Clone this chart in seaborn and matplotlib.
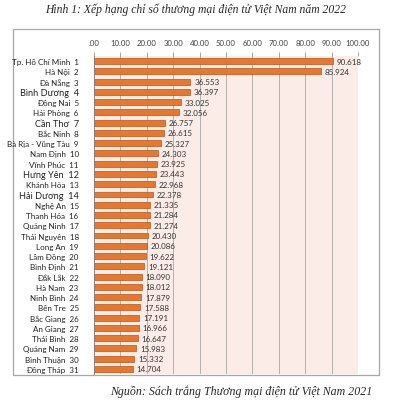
import seaborn as sns
import matplotlib.pyplot as plt
import pandas as pd
from matplotlib.patches import Rectangle

provinces = ["Tp. Hồ Chí Minh", "Hà Nội", "Đà Nẵng", "Bình Dương", "Đồng Nai", "Hải Phòng",
             "Cần Thơ", "Bắc Ninh", "Bà Rịa - Vũng Tàu", "Nam Định", "Vĩnh Phúc", "Hưng Yên",
             "Khánh Hòa", "Hải Dương", "Nghệ An", "Thanh Hóa", "Quảng Ninh", "Thái Nguyên",
             "Long An", "Lâm Đồng", "Bình Định", "Đắk Lắk", "Hà Nam", "Ninh Bình", "Bến Tre",
             "Bắc Giang", "An Giang", "Thái Bình", "Quảng Nam", "Bình Thuận", "Đồng Tháp"]
ranks = list(range(1, 32))
scores = [90.618, 85.924, 36.553, 36.397, 33.025, 32.056, 26.757, 26.615, 25.327, 24.303,
          23.925, 23.443, 22.968, 22.378, 21.335, 21.284, 21.274, 20.430, 20.086, 19.622,
          19.121, 18.090, 18.012, 17.879, 17.588, 17.191, 16.966, 16.647, 15.983, 15.332,
          14.704]
x_ticks = [0, 10, 20, 30, 40, 50, 60, 70, 80, 90, 100]
big_labels = ["Bình Dương", "Cần Thơ", "Hưng Yên", "Hải Dương"]

df = pd.DataFrame({"label": [f"{p}  {r}" for p, r in zip(provinces, ranks)],
                   "score": scores})

sns.set_theme(style="white")
plt.rcParams["font.family"] = ["Lato", "DejaVu Sans"]

fig = plt.figure(figsize=(3.96, 4.02), dpi=100)
ax = fig.add_axes([94 / 396, 1 - 375 / 402, 264 / 396, 318 / 402])

# outer chart frame
fig.add_artist(Rectangle((13 / 396, 1 - 376 / 402), 366 / 396, 346 / 402,
                         transform=fig.transFigure, fill=False,
                         edgecolor="#A6A6A6", linewidth=0.9, zorder=0))

ax.set_facecolor("#FCECE7")
sns.barplot(data=df, x="score", y="label", orient="h", color="#E8772E",
            edgecolor="#B8541A", linewidth=0.5, width=0.58, saturation=1, ax=ax)

for i, v in enumerate(scores):
    ax.text(v + 1.4, i, f"{v:.3f}", va="center", ha="left", fontsize=5.8, color="#333333")

ax.set_xlim(0, 100)
ax.set_xticks(x_ticks)
ax.set_xticklabels([f"{t:.2f}" if t else ".00" for t in x_ticks], fontsize=5.6, color="#404040")
ax.xaxis.tick_top()
ax.tick_params(axis="x", top=True, length=3, width=0.5, color="#808080", pad=4)
ax.tick_params(axis="y", left=False, pad=5)
ax.grid(axis="x", color="#A8A8A8", linewidth=0.6)
ax.set_axisbelow(True)
for lab in ax.get_yticklabels():
    lab.set_fontsize(6.6 if lab.get_text().split("  ")[0] in big_labels else 5.8)
    lab.set_color("#202020")
ax.set_xlabel("")
ax.set_ylabel("")
for side in ["top", "right", "bottom"]:
    ax.spines[side].set_visible(False)
ax.spines["left"].set_color("#808080")
ax.spines["left"].set_linewidth(0.6)

fig.text(0.495, 1 - 10 / 402, "Hình 1: Xếp hạng chỉ số thương mại điện tử Việt Nam năm 2022",
         ha="center", va="center", fontsize=8.4, style="italic", family="Liberation Serif")
fig.text(372 / 396, 1 - 392 / 402, "Nguồn: Sách trắng Thương mại điện tử Việt Nam 2021",
         ha="right", va="center", fontsize=8.6, style="italic", family="Liberation Serif")

fig.savefig("out.png", dpi=100, facecolor="white")
